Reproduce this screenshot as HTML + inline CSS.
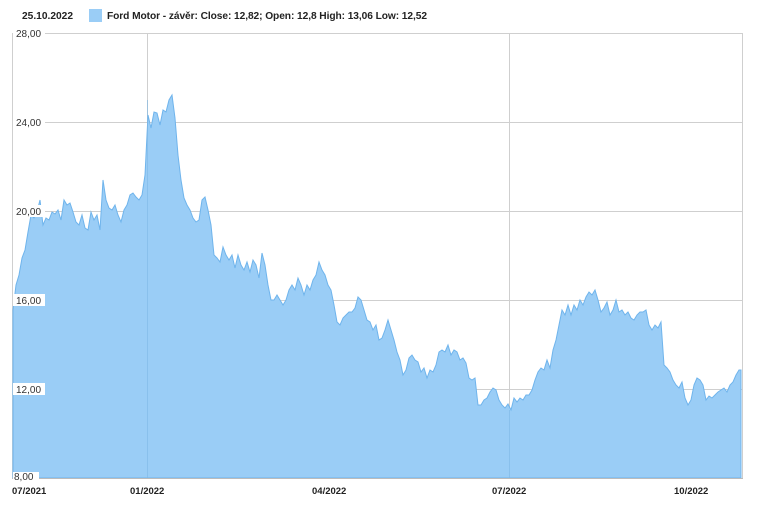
<!DOCTYPE html><html><head><meta charset="utf-8"><style>body{margin:0;background:#fff;width:758px;height:502px;overflow:hidden;font-family:"Liberation Sans",sans-serif}</style></head><body>
<svg width="758" height="502" xmlns="http://www.w3.org/2000/svg" font-family="Liberation Sans, sans-serif">
<text x="22" y="19" font-size="10.2" font-weight="bold" fill="#222">25.10.2022</text>
<rect x="89" y="9" width="13" height="13" fill="#9acdf6"/>
<text x="107" y="19" font-size="10.2" font-weight="bold" fill="#222" textLength="320">Ford Motor - závěr: Close: 12,82; Open: 12,8 High: 13,06 Low: 12,52</text>
<g stroke="#cfcfcf" stroke-width="1">
<line x1="13" y1="33.5" x2="743" y2="33.5"/><line x1="13" y1="122.5" x2="743" y2="122.5"/><line x1="13" y1="211.5" x2="743" y2="211.5"/><line x1="13" y1="300.5" x2="743" y2="300.5"/><line x1="13" y1="389.5" x2="743" y2="389.5"/>
<line x1="12.5" y1="33" x2="12.5" y2="478"/><line x1="147.5" y1="33" x2="147.5" y2="478"/><line x1="509.5" y1="33" x2="509.5" y2="478"/><line x1="742.5" y1="33" x2="742.5" y2="478"/>
</g>
<polygon fill="#9acdf6" stroke="#6fb4ec" stroke-width="1" points="13,478 13,310 16,285 19,275 22,258 25,250 28,232 31,215 34,218 37,212 40,200 43,225 46,218 49,220 52,212 55,214 58,210 61,220 64,200 67,205 70,203 73,212 76,222 79,225 82,215 85,228 88,230 91,212 94,220 97,215 100,230 103,180 106,200 109,208 112,210 115,205 118,215 121,222 124,210 127,205 130,195 133,193 136,197 139,200 142,195 145,175 148,115 151,128 154,112 157,113 160,125 163,110 166,112 169,100 172,95 175,118 178,155 181,180 184,198 187,205 190,210 193,218 196,222 199,220 202,200 205,197 208,210 211,225 214,255 217,258 220,262 223,247 226,255 229,260 232,255 235,268 238,255 241,265 244,270 247,262 250,272 253,260 256,265 259,278 262,253 265,265 268,285 271,300 274,300 277,295 280,300 283,305 286,300 289,290 292,285 295,290 298,278 301,285 304,295 307,285 310,290 313,280 316,275 319,262 322,270 325,275 328,285 331,290 334,305 337,322 340,325 343,318 346,315 349,312 352,312 355,308 358,297 361,300 364,310 367,320 370,322 373,330 376,325 379,340 382,338 385,330 388,320 391,330 394,340 397,352 400,360 403,375 406,370 409,358 412,355 415,360 418,362 421,372 424,368 427,378 430,370 433,372 436,365 439,352 442,350 445,352 448,345 451,355 454,350 457,352 460,360 463,358 466,363 469,378 472,380 475,378 478,405 481,405 484,400 487,398 490,392 493,388 496,390 499,400 502,405 505,408 508,404 511,410 514,398 517,402 520,398 523,400 526,395 529,395 532,390 535,380 538,372 541,368 544,370 547,360 550,368 553,350 556,340 559,325 562,310 565,315 568,305 571,315 574,305 577,310 580,300 583,305 586,297 589,292 592,295 595,290 598,300 601,312 604,308 607,302 610,315 613,310 616,300 619,312 622,310 625,315 628,312 631,318 634,320 637,315 640,312 643,312 646,310 649,325 652,330 655,325 658,328 661,322 664,365 667,368 670,372 673,380 676,385 679,388 682,382 685,398 688,405 691,400 694,385 697,378 700,380 703,385 706,400 709,396 712,398 715,395 718,392 721,390 724,388 727,392 730,385 733,382 736,375 739,370 741,370 741,478"/>
<g stroke="#7fb8e6" stroke-width="1" opacity="0.6"><line x1="147.5" y1="100" x2="147.5" y2="478"/><line x1="509.5" y1="410" x2="509.5" y2="478"/></g>
<line x1="12" y1="478.5" x2="743" y2="478.5" stroke="#bbb"/>
<g font-size="10" fill="#333">
<rect x="13" y="27" width="32" height="12" fill="#fff"/><text x="16" y="37">28,00</text>
<rect x="13" y="116" width="32" height="12" fill="#fff"/><text x="16" y="126">24,00</text>
<rect x="13" y="205" width="32" height="12" fill="#fff"/><text x="16" y="215">20,00</text>
<rect x="13" y="294" width="32" height="12" fill="#fff"/><text x="16" y="304">16,00</text>
<rect x="13" y="383" width="32" height="12" fill="#fff"/><text x="16" y="393">12,00</text>
<rect x="13" y="472" width="26" height="7" fill="#fff"/><text x="14" y="480">8,00</text>
</g>
<g font-size="9.5" font-weight="bold" fill="#222">
<text x="12" y="494">07/2021</text><text x="130" y="494">01/2022</text><text x="312" y="494">04/2022</text><text x="492" y="494">07/2022</text><text x="674" y="494">10/2022</text>
</g>
</svg></body></html>
